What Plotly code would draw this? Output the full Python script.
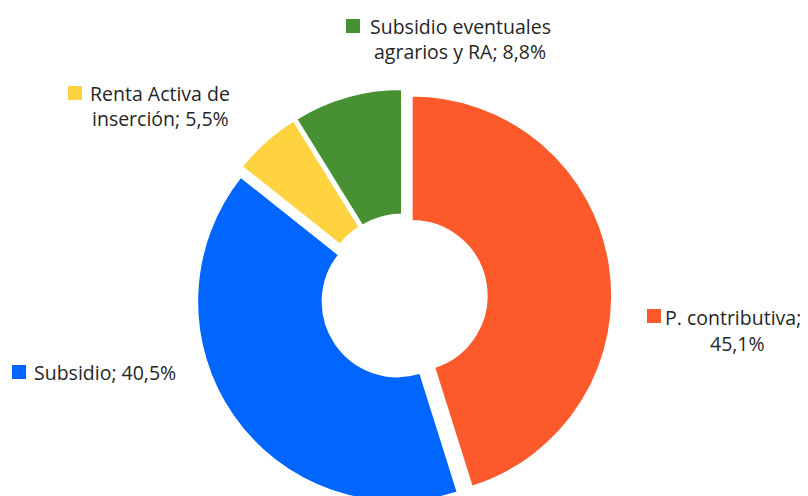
import plotly.graph_objects as go

categories = ["P. contributiva", "Subsidio", "Renta Activa de inserción", "Subsidio eventuales agrarios y RA"]
values = [45.1, 40.5, 5.5, 8.8]
colors = ["#FC5A2B", "#0066FF", "#FFD23F", "#479134"]

# label text lines for each slice (Excel-style data labels)
label_lines = [
    ["P. contributiva;", "45,1%"],
    ["Subsidio; 40,5%"],
    ["Renta Activa de", "inserción; 5,5%"],
    ["Subsidio eventuales", "agrarios y RA; 8,8%"],
]

W, H = 808, 497
OFF = 8          # page body margin (screen px -> figure px)
FONT = "Open Sans"
FS = 19.5
TXT = "#262626"

# layout placement in screen pixels: per-line centre x, line centres y, legend-key square (x0, y-centre)
label_layout = [
    dict(cxs=[733, 737], ys=[317, 343], key=(647, 316)),
    dict(cxs=[104.5], ys=[372], key=(12, 372)),
    dict(cxs=[160, 160], ys=[93, 118], key=(68, 93)),
    dict(cxs=[460, 460], ys=[26, 51], key=(346, 26)),
]

def px(x):
    return (x - OFF) / W

def py(y):
    return 1 - (y - OFF) / H

# pie box: centre (404, 297) on screen, radius 200 px, pull 0.04
PULL = 0.04
box_top = 297 - 200 * (1 + PULL)

fig = go.Figure()
fig.add_trace(go.Pie(
    labels=categories,
    values=values,
    marker=dict(colors=colors, line=dict(color="white", width=1.5)),
    hole=0.375,
    pull=[PULL] * len(values),
    sort=False,
    direction="clockwise",
    rotation=0,
    textinfo="none",
    hoverinfo="label+percent",
    showlegend=False,
    domain=dict(x=[0, 2 * (404 - OFF) / W], y=[0, py(box_top)]),
))

annotations = []
shapes = []
for lines, lay, col in zip(label_lines, label_layout, colors):
    for line, xc, yc in zip(lines, lay["cxs"], lay["ys"]):
        annotations.append(dict(
            x=px(xc), y=py(yc), xref="paper", yref="paper",
            text=line, showarrow=False, xanchor="center", yanchor="middle",
            font=dict(family=FONT, size=FS, color=TXT),
        ))
    kx, kyc = lay["key"]
    shapes.append(dict(type="rect", xref="paper", yref="paper",
                       x0=px(kx), x1=px(kx + 14), y0=py(kyc - 7), y1=py(kyc + 7),
                       fillcolor=col, line=dict(width=0)))

fig.update_layout(
    width=W, height=H,
    margin=dict(l=0, r=0, t=0, b=0),
    paper_bgcolor="white",
    plot_bgcolor="white",
    annotations=annotations,
    shapes=shapes,
    font=dict(family=FONT),
)

fig.write_html("out.html")
